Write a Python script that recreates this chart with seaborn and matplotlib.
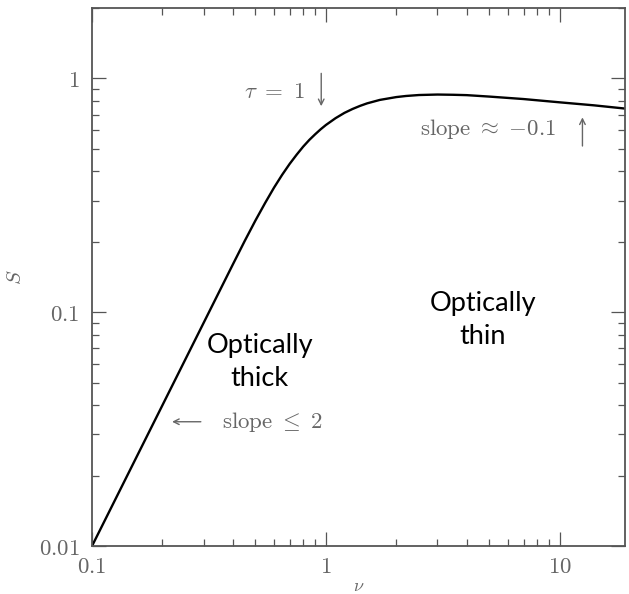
import numpy as np
import pandas as pd
import matplotlib
matplotlib.use("Agg")
import matplotlib.pyplot as plt
import seaborn as sns

# values (log-log)
nu = [0.1, 0.15, 0.2, 0.25, 0.3, 0.35, 0.4, 0.45, 0.5, 0.55, 0.6, 0.65, 0.7,
      0.75, 0.8, 0.85, 0.9, 0.95, 1.0, 1.1, 1.2, 1.3, 1.4, 1.5, 1.7, 2.0, 2.2,
      2.5, 3.0, 3.5, 4.0, 5.0, 7.0, 10.0, 14.0, 19.0]
S = [0.01, 0.0225, 0.04, 0.0625, 0.09, 0.1225, 0.16, 0.202, 0.247, 0.2935, 0.341,
     0.387, 0.431, 0.472, 0.511, 0.546, 0.577, 0.606, 0.632, 0.676, 0.712, 0.740,
     0.763, 0.782, 0.809, 0.832, 0.841, 0.849, 0.853, 0.851, 0.848, 0.836, 0.816,
     0.79, 0.767, 0.743]

x_ticks = [0.1, 1, 10]
x_tick_labels = [r"$0.1$", r"$1$", r"$10$"]
y_ticks = [0.01, 0.1, 1]
y_tick_labels = [r"$0.01$", r"$0.1$", r"$1$"]

FRAME = "#555555"
TEXT = "#666666"


def plot_spectrum():
    sns.set_style("ticks")
    plt.rcParams["mathtext.fontset"] = "cm"
    plt.rcParams["font.family"] = ["Lato", "DejaVu Sans"]

    fig = plt.figure(figsize=(6.29, 5.94), dpi=100)
    ax = fig.add_axes([0.1463, 0.0808, 0.8473, 0.9057])

    df = pd.DataFrame({"nu": nu, "S": S})
    sns.lineplot(data=df, x="nu", y="S", ax=ax, color="black", linewidth=1.7, sort=False)

    ax.set_xscale("log")
    ax.set_yscale("log")
    ax.set_xlim(0.1, 19)
    ax.set_ylim(0.01, 2.0)

    ax.set_xticks(x_ticks)
    ax.set_xticklabels(x_tick_labels)
    ax.set_yticks(y_ticks)
    ax.set_yticklabels(y_tick_labels)

    for spine in ax.spines.values():
        spine.set_visible(True)
        spine.set_color(FRAME)
        spine.set_linewidth(1.3)

    ax.tick_params(which="both", direction="in", top=True, right=True, color=FRAME,
                   labelcolor=TEXT, labelsize=16.5, width=0.9)
    ax.tick_params(which="major", length=10)
    ax.tick_params(which="minor", length=5)
    ax.tick_params(axis="x", which="major", pad=7)
    ax.tick_params(axis="y", which="major", pad=9)

    ax.set_xlabel(r"$\nu$", fontsize=13, color=TEXT, labelpad=1)
    ax.set_ylabel(r"$S$", fontsize=15, color=TEXT, labelpad=10)

    # annotations
    ax.text(0.6, 0.88, r"$\tau\ =\ 1$", fontsize=16.5, color=TEXT, ha="center", va="center")
    ax.annotate("", xy=(0.955, 0.74), xytext=(0.955, 1.08),
                arrowprops=dict(arrowstyle="->", color=TEXT, lw=1.0))

    ax.text(9.7, 0.61, r"$\mathrm{slope}\ \approx\ {-}0.1$", fontsize=16.5, color=TEXT,
            ha="right", va="center")
    ax.annotate("", xy=(12.5, 0.70), xytext=(12.5, 0.50),
                arrowprops=dict(arrowstyle="->", color=TEXT, lw=1.0))

    ax.annotate("", xy=(0.214, 0.034), xytext=(0.30, 0.034),
                arrowprops=dict(arrowstyle="->", color=TEXT, lw=1.0))
    ax.text(0.36, 0.034, r"$\mathrm{slope}\ \leq\ 2$", fontsize=16.5, color=TEXT,
            ha="left", va="center")

    ax.text(0.522, 0.061, "Optically\nthick", fontsize=19.5, color="black",
            ha="center", va="center", linespacing=1.4)
    ax.text(4.7, 0.093, "Optically\nthin", fontsize=19.5, color="black",
            ha="center", va="center", linespacing=1.4)

    fig.savefig("out.png", dpi=100)


if __name__ == "__main__":
    plot_spectrum()
